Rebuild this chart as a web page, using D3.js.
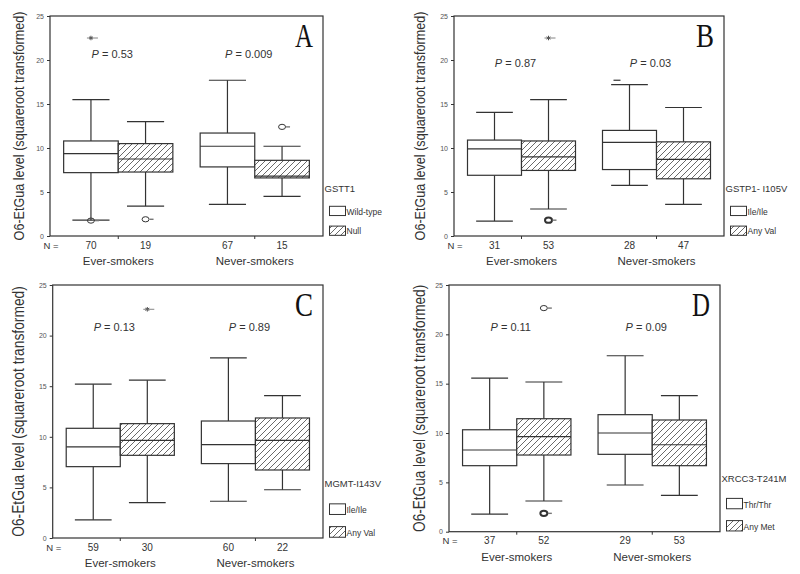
<!DOCTYPE html>
<html>
<head>
<meta charset="utf-8">
<script src="https://cdn.jsdelivr.net/npm/d3@7"></script>
<style>
body { margin:0; background:#fff; }
text { font-family:"Liberation Sans", Arial, sans-serif; fill:#333; }
</style>
</head>
<body>
<script>
// data
var groups = ["Ever-smokers", "Never-smokers"];
var letters = ["A", "B", "C", "D"];
var genes = ["GSTT1", "GSTP1- I105V", "MGMT-I143V", "XRCC3-T241M"];
var refLabels = ["Wild-type", "Ile/Ile", "Ile/Ile", "Thr/Thr"];
var varLabels = ["Null", "Any Val", "Any Val", "Any Met"];
var yTicks = [0, 5, 10, 15, 20, 25];
var nCounts = [[70, 19, 67, 15], [31, 53, 28, 47], [59, 30, 60, 22], [37, 52, 29, 53]];
var pValues = [["0.53", "0.009"], ["0.87", "0.03"], ["0.13", "0.89"], ["0.11", "0.09"]];
// [low whisker, q1, median, q3, high whisker] for ever-ref, ever-var, never-ref, never-var
var boxStats = [
	[[1.8, 7.2, 9.35, 10.8, 15.5], [3.4, 7.27, 8.75, 10.5, 13.0], [3.6, 7.85, 10.2, 11.7, 17.7], [4.5, 6.6, 6.8, 8.6, 10.2]],
	[[1.7, 6.9, 9.9, 10.9, 14.05], [3.07, 7.45, 9.0, 10.8, 15.5], [5.75, 7.55, 10.65, 12.0, 17.2], [3.6, 6.5, 8.7, 10.7, 14.6]],
	[[1.8, 7.05, 9.0, 10.84, 15.2], [3.5, 8.17, 9.65, 11.3, 15.6], [3.63, 7.35, 9.22, 11.56, 17.8], [4.77, 6.72, 9.65, 11.86, 14.06]],
	[[1.79, 6.69, 8.28, 10.33, 15.57], [3.11, 7.77, 9.63, 11.45, 15.17], [4.73, 7.84, 10.0, 11.86, 17.83], [3.69, 6.69, 8.81, 11.32, 13.78]]
];
// outliers: [panel, box, value, bold]
var outliers = [[0, 0, 1.75, 0], [0, 1, 1.9, 0], [0, 3, 12.4, 0], [1, 1, 1.8, 1], [3, 1, 22.66, 0], [3, 1, 1.86, 1]];
// extremes: [panel, box, value]
var extremes = [[0, 0, 22.5], [1, 1, 22.5], [2, 1, 22.6]];
// stray dash left of a whisker: [panel, box, value]
var strays = [[1, 2, 17.7]];

var layout = [
	{left:50, right:323, top:16, bottom:236, labelX:24, labelFont:12.6, pY:58},
	{left:454, right:724, top:16, bottom:236, labelX:425, labelFont:12.6, pY:67},
	{left:52.7, right:323, top:285, bottom:538, labelX:24, labelFont:13.8, pY:331},
	{left:449, right:720, top:285, bottom:531.7, labelX:425, labelFont:13.6, pY:331}
];

var ink = "#333";
var svg = d3.select("body").append("svg").attr("width", 800).attr("height", 574);

var pat = svg.append("defs").append("pattern").attr("id", "hatch")
			.attr("patternUnits", "userSpaceOnUse").attr("width", 6).attr("height", 6);
pat.append("rect").attr("width", 6).attr("height", 6).attr("fill", "#fff");
pat.append("path").attr("d", "M-1,1 l2,-2 M0,6 l6,-6 M5,7 l2,-2")
			.attr("stroke", "#444").attr("stroke-width", 0.8);

layout.forEach(function(L, p){
	var g = svg.append("g");
	var y = d3.scaleLinear().domain([0, 25]).range([L.bottom, L.top]);
	var x = d3.scaleBand().domain(groups).range([L.left, L.right]).paddingInner(0.2).paddingOuter(0.1);
	var sub = d3.scaleBand().domain([0, 1]).range([0, x.bandwidth()]);
	var bw = sub.bandwidth();
	var cx = function(i){ return x(groups[Math.floor(i / 2)]) + sub(i % 2) + bw / 2; };

	// frame
	g.append("rect").attr("x", L.left).attr("y", L.top)
		.attr("width", L.right - L.left).attr("height", L.bottom - L.top)
		.attr("fill", "none").attr("stroke", ink).attr("stroke-width", 1.2);

	// y axis
	var ax = g.append("g").attr("transform", "translate(" + L.left + ",0)")
		.call(d3.axisLeft(y).tickValues(yTicks).tickSize(3).tickPadding(3));
	ax.select(".domain").remove();
	ax.selectAll("line").attr("stroke", ink);
	ax.selectAll("text").style("font-size", "7px").style("fill", "#555");

	// y label (glyphs look stretched across in the original)
	g.append("text").attr("transform", "translate(" + L.labelX + "," + ((L.top + L.bottom) / 2) + ") rotate(-90) scale(1,1.2)")
		.attr("text-anchor", "middle").style("font-size", L.labelFont + "px")
		.text("O6-EtGua level (squareroot transformed)");

	// group ticks and labels
	groups.forEach(function(gr){
		var gx = x(gr) + x.bandwidth() / 2;
		g.append("line").attr("x1", gx).attr("x2", gx).attr("y1", L.bottom).attr("y2", L.bottom + 3).attr("stroke", ink);
		g.append("text").attr("x", gx).attr("y", L.bottom + 29).attr("text-anchor", "middle")
			.style("font-size", "11.5px").text(gr);
	});
	g.append("text").attr("x", L.left + 1).attr("y", L.bottom + 12.5).attr("text-anchor", "middle")
		.style("font-size", "9.5px").text("N =");

	// boxes
	boxStats[p].forEach(function(s, i){
		var c = cx(i), x0 = c - bw / 2, cap = bw * 0.34;
		g.append("line").attr("x1", c).attr("x2", c).attr("y1", y(s[0])).attr("y2", y(s[1])).attr("stroke", ink).attr("stroke-width", 1.2);
		g.append("line").attr("x1", c).attr("x2", c).attr("y1", y(s[3])).attr("y2", y(s[4])).attr("stroke", ink).attr("stroke-width", 1.2);
		[s[0], s[4]].forEach(function(v){
			g.append("line").attr("x1", c - cap).attr("x2", c + cap).attr("y1", y(v)).attr("y2", y(v)).attr("stroke", ink).attr("stroke-width", 1.2);
		});
		g.append("rect").attr("x", x0).attr("y", y(s[3])).attr("width", bw).attr("height", y(s[1]) - y(s[3]))
			.attr("fill", i % 2 ? "url(#hatch)" : "#fff").attr("stroke", ink).attr("stroke-width", 1.2);
		g.append("line").attr("x1", x0).attr("x2", x0 + bw).attr("y1", y(s[2])).attr("y2", y(s[2])).attr("stroke", ink).attr("stroke-width", 1.2);
		g.append("text").attr("x", c).attr("y", L.bottom + 12.5).attr("text-anchor", "middle")
			.style("font-size", "10px").text(nCounts[p][i]);
	});

	// outliers
	outliers.filter(function(o){ return o[0] === p; }).forEach(function(o){
		var c = cx(o[1]);
		g.append("ellipse").attr("cx", c).attr("cy", y(o[2])).attr("rx", 3.5).attr("ry", 2.6)
			.attr("fill", "none").attr("stroke", ink).attr("stroke-width", o[3] ? 2 : 1);
		g.append("line").attr("x1", c + 4).attr("x2", c + 8).attr("y1", y(o[2])).attr("y2", y(o[2]))
			.attr("stroke", "#777").attr("stroke-width", 1.4);
	});
	extremes.filter(function(o){ return o[0] === p; }).forEach(function(o){
		var c = cx(o[1]);
		g.append("path").attr("transform", "translate(" + c + "," + y(o[2]) + ")")
			.attr("d", d3.symbol().type(d3.symbolAsterisk || d3.symbolCross).size(14)())
			.attr("fill", "none").attr("stroke", ink).attr("stroke-width", 0.9);
		g.append("line").attr("x1", c - 4).attr("x2", c + 7).attr("y1", y(o[2])).attr("y2", y(o[2]))
			.attr("stroke", "#777").attr("stroke-width", 0.9);
	});
	strays.filter(function(o){ return o[0] === p; }).forEach(function(o){
		var c = cx(o[1]);
		g.append("line").attr("x1", c - 16).attr("x2", c - 9).attr("y1", y(o[2])).attr("y2", y(o[2]))
			.attr("stroke", ink).attr("stroke-width", 1.2);
	});

	// p-values
	groups.forEach(function(gr, k){
		var t = g.append("text").attr("x", x(gr) + x.bandwidth() / 2 - 6).attr("y", L.pY)
			.attr("text-anchor", "middle").style("font-size", "11px");
		t.append("tspan").style("font-style", "italic").text("P");
		t.append("tspan").text(" = " + pValues[p][k]);
	});

	// panel letter
	g.append("text").attr("x", L.right - 10).attr("y", L.top + 31).attr("text-anchor", "end")
		.style("font-family", "'Liberation Serif', 'Times New Roman', serif").style("font-size", "34px")
		.style("fill", "#111").attr("textLength", 18).attr("lengthAdjust", "spacingAndGlyphs")
		.text(letters[p]);

	// legend
	var h = L.bottom - L.top;
	g.append("text").attr("x", L.right + 1.5).attr("y", L.bottom - 0.2 * h)
		.style("font-size", "9.5px").text(genes[p]);
	[refLabels[p], varLabels[p]].forEach(function(lab, k){
		var ty = L.bottom - (k ? 0.045 : 0.135) * h;
		g.append("rect").attr("x", L.right + 6.5).attr("y", ty).attr("width", 16).attr("height", 0.042 * h)
			.attr("fill", k ? "url(#hatch)" : "#fff").attr("stroke", ink).attr("stroke-width", 1);
		g.append("text").attr("x", L.right + 23.5).attr("y", ty + 0.042 * h - 1)
			.style("font-size", "8.5px").text(lab);
	});
});
</script>
</body>
</html>
